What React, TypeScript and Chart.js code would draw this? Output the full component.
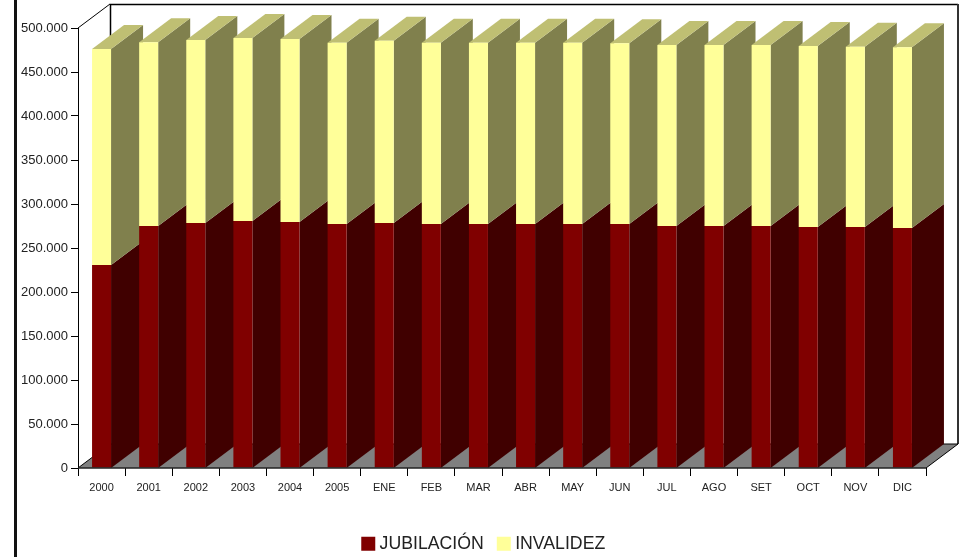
import React, { useEffect, useRef } from "react";
import { Chart, registerables } from "chart.js";

Chart.register(...registerables);

const categories = ["2000", "2001", "2002", "2003", "2004", "2005", "ENE", "FEB", "MAR", "ABR", "MAY", "JUN", "JUL", "AGO", "SET", "OCT", "NOV", "DIC"];
const jubilacion = [230700, 275000, 278400, 280700, 279500, 277300, 278400, 277300, 277300, 277300, 277300, 277300, 275000, 275000, 275000, 273900, 273900, 272700];
const invalidez = [245400, 208800, 208000, 207900, 208000, 206000, 207200, 206000, 206000, 206000, 206000, 205300, 205700, 205700, 205700, 205600, 204900, 205400];

const DX = 32;
const DY = 24;
const FONT = "'Liberation Sans', Arial, sans-serif";
const LEGEND_DROP = 5.5;

const poly = (ctx: CanvasRenderingContext2D, pts: number[][], fill?: string, stroke?: string, lw = 1) => {
  ctx.beginPath();
  pts.forEach((p, i) => (i ? ctx.lineTo(p[0], p[1]) : ctx.moveTo(p[0], p[1])));
  ctx.closePath();
  if (fill) { ctx.fillStyle = fill; ctx.fill(); }
  if (stroke) { ctx.strokeStyle = stroke; ctx.lineWidth = lw; ctx.stroke(); }
};

const box3d = {
  id: "box3d",
  beforeDatasetsDraw(chart: any) {
    const { ctx, chartArea: a } = chart;
    ctx.save();
    poly(ctx, [[a.left + DX, a.top - DY], [a.right + DX, a.top - DY], [a.right + DX, a.bottom - DY], [a.left + DX, a.bottom - DY]], "#ffffff");
    ctx.beginPath();
    ctx.moveTo(a.left + DX + 0.5, a.bottom - DY);
    ctx.lineTo(a.left + DX + 0.5, a.top - DY + 0.5);
    ctx.lineTo(a.right + DX, a.top - DY + 0.5);
    ctx.strokeStyle = "#000";
    ctx.lineWidth = 1.5;
    ctx.stroke();
    ctx.beginPath();
    ctx.moveTo(a.right + DX, a.top - DY);
    ctx.lineTo(a.right + DX, a.bottom - DY);
    ctx.strokeStyle = "#333";
    ctx.lineWidth = 2;
    ctx.stroke();
    poly(ctx, [[a.left, a.bottom], [a.right, a.bottom], [a.right + DX, a.bottom - DY], [a.left + DX, a.bottom - DY]], "#808080");
    ctx.beginPath();
    ctx.moveTo(a.left, a.top); ctx.lineTo(a.left + DX, a.top - DY);
    ctx.moveTo(a.left, a.bottom); ctx.lineTo(a.left + DX, a.bottom - DY);
    ctx.lineTo(a.right + DX, a.bottom - DY);
    ctx.moveTo(a.right, a.bottom); ctx.lineTo(a.right + DX, a.bottom - DY);
    ctx.strokeStyle = "#000";
    ctx.lineWidth = 1;
    ctx.stroke();
    const m0 = chart.getDatasetMeta(0).data;
    const m1 = chart.getDatasetMeta(1).data;
    m0.forEach((b0: any, i: number) => {
      const b1 = m1[i];
      const half = b0.width / 2;
      const l = b0.x - half;
      const r = b0.x + half;
      const y0 = a.bottom;
      poly(ctx, [[r, y0], [r + DX, y0 - DY], [r + DX, b0.y - DY], [r, b0.y]], "#400000");
      poly(ctx, [[r, b0.y], [r + DX, b0.y - DY], [r + DX, b1.y - DY], [r, b1.y]], "#80804D");
      poly(ctx, [[l, b1.y], [r, b1.y], [r + DX, b1.y - DY], [l + DX, b1.y - DY]], "#BFBF73");
    });
    ctx.restore();
  },
  afterDatasetsDraw(chart: any) {
    const { ctx, chartArea: a } = chart;
    ctx.save();
    ctx.beginPath();
    ctx.moveTo(a.left, a.bottom);
    ctx.lineTo(a.right, a.bottom);
    ctx.strokeStyle = "#222";
    ctx.lineWidth = 1.5;
    ctx.stroke();
    ctx.restore();
  },
};

export default function App() {
  const ref = useRef<HTMLCanvasElement>(null);
  useEffect(() => {
    const chart = new Chart(ref.current as HTMLCanvasElement, {
      type: "bar",
      data: {
        labels: categories,
        datasets: [
          { label: "JUBILACIÓN", data: jubilacion, backgroundColor: "#800000", barPercentage: 0.4035, categoryPercentage: 1 },
          { label: "INVALIDEZ", data: invalidez, backgroundColor: "#FFFF99", barPercentage: 0.4035, categoryPercentage: 1 },
        ],
      },
      options: {
        responsive: false,
        animation: false,
        layout: { padding: { top: 28, left: 2, right: 0, bottom: -LEGEND_DROP } },
        plugins: {
          tooltip: { enabled: false },
          legend: {
            position: "bottom",
            labels: {
              usePointStyle: true,
              pointStyle: "rect",
              boxWidth: 5,
              boxHeight: 14,
              padding: 17.5,
              color: "#222",
              font: { family: FONT, size: 17.7 },
            },
          },
        },
        scales: {
          x: {
            stacked: true,
            afterFit: (s: any) => { s.height = 557 + LEGEND_DROP - 468 - (s.chart.legend?.height ?? 30); },
            grid: { drawOnChartArea: false, tickLength: 8, color: "#000", tickColor: "#000", lineWidth: 1 },
            border: { display: false },
            ticks: { autoSkip: false, maxRotation: 0, padding: 5, color: "#222", font: { family: FONT, size: 11 } },
          },
          y: {
            stacked: true,
            min: 0,
            max: 500000,
            afterFit: (s: any) => { s.width = 76; },
            grid: { drawOnChartArea: false, tickLength: 7, color: "#000", tickColor: "#000", lineWidth: 1 },
            border: { display: true, color: "#000", width: 1 },
            ticks: {
              stepSize: 50000,
              padding: 3,
              color: "#222",
              font: { family: FONT, size: 13 },
              callback: (v: any) => String(v).replace(/\B(?=(\d{3})+$)/g, "."),
            },
          },
          yPad: {
            position: "right",
            display: true,
            afterFit: (s: any) => { s.width = 43; },
            grid: { display: false },
            border: { display: false },
            ticks: { display: false },
          },
        },
      } as any,
      plugins: [box3d],
    });
    return () => chart.destroy();
  }, []);
  return (
    <div style={{ position: "fixed", left: 0, top: 0, width: 969, height: 557, background: "#fff", overflow: "hidden" }}>
      <canvas ref={ref} width={969} height={557} style={{ display: "block" }} />
      <div style={{ position: "absolute", left: 14, top: 0, width: 3, height: 557, background: "#111" }} />
    </div>
  );
}
